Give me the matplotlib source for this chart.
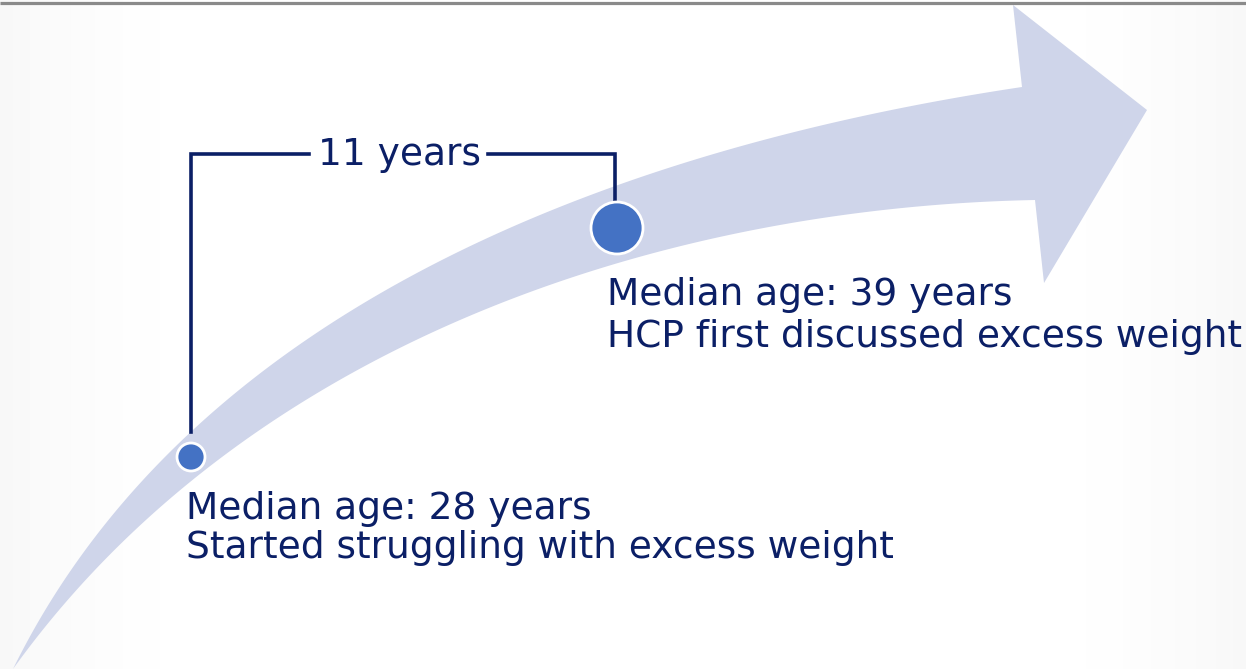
import numpy as np
import matplotlib
matplotlib.use("Agg")
import matplotlib.pyplot as plt
from matplotlib.patches import Polygon, Circle

# Milestones along the weight journey
milestone_ages = [28, 39]
milestone_labels = ["Started struggling with excess weight",
                    "HCP first discussed excess weight"]

W, H = 1246, 669
NAVY = "#0b1f66"
BAND = "#cfd5ea"
DOT = "#4472c4"

# horizontal position of an age along the arrow
def age_x(age):
    return 191 + (age - milestone_ages[0]) * (617 - 191) / (milestone_ages[1] - milestone_ages[0])


def fit_cubic(p0, p3, pts):
    p0, p3, pts = np.asarray(p0, float), np.asarray(p3, float), np.asarray(pts, float)
    allp = np.vstack([p0, pts, p3])
    d = np.r_[0, np.cumsum(np.hypot(*np.diff(allp, axis=0).T))]
    t = (d / d[-1])[1:-1]
    A = np.column_stack([3 * (1 - t) ** 2 * t, 3 * (1 - t) * t ** 2])
    rhs = pts - np.outer((1 - t) ** 3, p0) - np.outer(t ** 3, p3)
    sol, *_ = np.linalg.lstsq(A, rhs, rcond=None)
    p1, p2 = sol
    s = np.linspace(0, 1, 200)[:, None]
    return (1 - s) ** 3 * p0 + 3 * (1 - s) ** 2 * s * p1 + 3 * (1 - s) * s ** 2 * p2 + s ** 3 * p3


fig = plt.figure(figsize=(W / 100, H / 100), dpi=100)
ax = fig.add_axes([0, 0, 1, 1])
ax.set_xlim(0, W)
ax.set_ylim(H, 0)
ax.axis("off")

# very soft grey shading towards the side edges
xx = np.linspace(-1, 1, 400)
yy = np.linspace(-1, 1, 200)
X, Y = np.meshgrid(xx, yy)
shade = np.clip((np.abs(X) - 0.6) / 0.4, 0, 1) ** 2 * 0.03
ax.imshow(1 - shade, cmap="gray", vmin=0, vmax=1, extent=[0, W, H, 0],
          aspect="auto", zorder=0, interpolation="bilinear")

# curved arrow
tail = (13, 669)
upper = fit_cubic(tail, (1022, 87),
                  [(118, 500), (150, 463), (250, 383), (350, 317), (450, 263),
                   (600, 190), (700, 157), (800, 127), (900, 107)])
lower = fit_cubic(tail, (1035, 200),
                  [(166, 500), (207, 463), (283, 417), (383, 360), (483, 313),
                   (550, 287), (600, 263), (700, 240), (833, 217), (933, 207)])
head = np.array([(1013, 5), (1147, 110), (1044, 283)])
outline = np.vstack([upper, head, lower[::-1]])
ax.add_patch(Polygon(outline, closed=True, facecolor=BAND, edgecolor="none", zorder=1))

# top rule
ax.plot([0, W], [2.5, 2.5], color="#8a8a8a", lw=2.3, solid_capstyle="butt", zorder=5)

# bracket spanning the two milestones
x0, x1 = age_x(milestone_ages[0]), age_x(milestone_ages[1])
yb = 154
ax.plot([x0, x0, 309], [432, yb, yb], color=NAVY, lw=2.6, solid_joinstyle="miter", zorder=3)
ax.plot([488, x1 - 2, x1 - 2], [yb, yb, 201], color=NAVY, lw=2.6, solid_joinstyle="miter", zorder=3)

fkw = dict(family="DejaVu Sans", fontsize=27, color=NAVY)
gap = milestone_ages[1] - milestone_ages[0]
ax.text(399, 165, f"{gap} years", ha="center", va="baseline", zorder=4, **fkw)

# milestone dots
ax.add_patch(Circle((x0, 457), 14, facecolor=DOT, edgecolor="white", lw=2, zorder=4))
ax.add_patch(Circle((x1, 228), 26, facecolor=DOT, edgecolor="white", lw=2, zorder=4))

# milestone captions
ax.text(186, 519, f"Median age: {milestone_ages[0]} years", ha="left", va="baseline", zorder=4, **fkw)
ax.text(186, 558, milestone_labels[0], ha="left", va="baseline", zorder=4, **fkw)
ax.text(607, 305, f"Median age: {milestone_ages[1]} years", ha="left", va="baseline", zorder=4, **fkw)
ax.text(607, 347, milestone_labels[1], ha="left", va="baseline", zorder=4, **fkw)

fig.savefig("out.png", dpi=100)
